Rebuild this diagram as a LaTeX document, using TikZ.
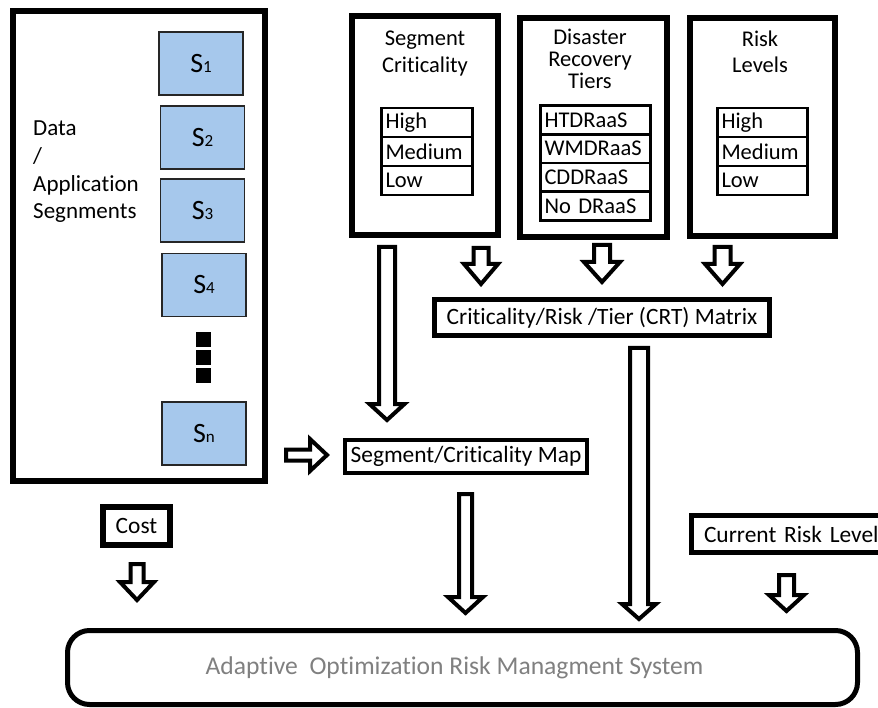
\documentclass[tikz,border=0pt]{standalone}
\usepackage{fontspec}
\setmainfont{Carlito}[Ligatures={NoCommon,NoRequired,NoContextual}]
\usetikzlibrary{calc}

\definecolor{segfill}{RGB}{166,200,236}
\definecolor{labelgray}{RGB}{128,128,128}

% hollow block arrow pointing down: start (top of shaft) -> tip
% #3 shaft half width, #4 head half width, #5 head length (pt)
\newcommand\blockdown[5]{%
  \draw[blockarrow] let \p1=(#1), \p2=(#2) in
    (\x1-#3pt,\y1) -- (\x1+#3pt,\y1) -- (\x1+#3pt,\y2+#5pt) -- (\x1+#4pt,\y2+#5pt)
    -- (\x1,\y2) -- (\x1-#4pt,\y2+#5pt) -- (\x1-#3pt,\y2+#5pt) -- cycle;}
% hollow block arrow pointing right
\newcommand\blockright[5]{%
  \draw[blockarrow] let \p1=(#1), \p2=(#2) in
    (\x1,\y1+#3pt) -- (\x2-#5pt,\y1+#3pt) -- (\x2-#5pt,\y1+#4pt) -- (\x2,\y1)
    -- (\x2-#5pt,\y1-#4pt) -- (\x2-#5pt,\y1-#3pt) -- (\x1,\y1-#3pt) -- cycle;}
\newcommand\segidx[1]{{\fontsize{17}{17}\selectfont #1}}

\tikzset{
  blockarrow/.style={draw=black, fill=white, line width=4pt, line join=miter},
  panel/.style={draw=black, line width=5.5pt, inner sep=0pt},
  segbox/.style={draw=black!85, fill=segfill, line width=1.2pt, minimum width=84pt,
    minimum height=63pt, inner sep=0pt, font=\fontsize{28}{30}\selectfont},
  cell/.style={draw=black, line width=2.5pt, text width=#1, align=left, inner xsep=4pt,
    inner ysep=0pt, minimum height=29pt, font=\fontsize{22.5}{26}\selectfont},
  heading/.style={align=center, inner sep=0pt},
  label/.style={draw=black, line width=5pt, inner sep=0pt, font=\fontsize{23.4}{28}\selectfont},
  dotsq/.style={fill=black, minimum size=15pt, inner sep=0pt},
}

\begin{document}
\begin{tikzpicture}[x=1pt, y=-1pt]
\fill[white] (0,0) rectangle (878,708);
\useasboundingbox (0,0) rectangle (878,708);

% data / application segments
\node[panel, line width=6pt, minimum width=252.5pt, minimum height=469.5pt] (segs) at (138.75,246.25) {};
\node[anchor=west, align=left, inner sep=0pt, font=\fontsize{23}{27.7}\selectfont] (segtxt) at (33,172)
  {Data\\/\\Application\\Segnments};
\node[segbox] (s1) at (201,63.5) {S\segidx{1}};
\node[segbox] (s2) at (202.5,137.5) {S\segidx{2}};
\node[segbox] (s3) at (202.5,210.5) {S\segidx{3}};
\node[segbox] (s4) at (204,285) {S\segidx{4}};
\node[dotsq] (d1) at (203.5,339.5) {};
\node[dotsq] (d2) at (203.5,357.5) {};
\node[dotsq] (d3) at (203.5,375.5) {};
\node[segbox] (sn) at (204,433.5) {S\segidx{n}};

% segment criticality
\node[panel, minimum width=146pt, minimum height=219pt] (crit) at (425,125.5) {};
\node[heading, font=\fontsize{22.5}{27}\selectfont] (critt) at (425,53.5) {Segment\\Criticality};
\node[cell=83pt] (c1) at (427,122.5) {High};
\node[cell=83pt] (c2) at (427,151.5) {Medium};
\node[cell=83pt] (c3) at (427,180.5) {Low};

% disaster recovery tiers
\node[panel, minimum width=147pt, minimum height=219pt] (tiers) at (593.5,127.5) {};
\node[heading, font=\fontsize{22.5}{22}\selectfont] (tierst) at (590,59) {Disaster\\Recovery\\Tiers};
\node[cell=102pt, minimum height=28.75pt] (r1) at (595.5,119.9) {HTDRaaS};
\node[cell=102pt, minimum height=28.75pt] (r2) at (595.5,148.6) {WMDRaaS};
\node[cell=102pt, minimum height=28.75pt] (r3) at (595.5,177.4) {CDDRaaS};
\node[cell=102pt, minimum height=28.75pt] (r4) at (595.5,206.1) {No DRaaS};

% risk levels
\node[panel, minimum width=145pt, minimum height=218pt] (risk) at (762.5,127) {};
\node[heading, font=\fontsize{22.5}{26}\selectfont] (riskt) at (760,52) {Risk\\Levels};
\node[cell=82pt] (l1) at (762.5,122.5) {High};
\node[cell=82pt] (l2) at (762.5,151.5) {Medium};
\node[cell=82pt] (l3) at (762.5,180.5) {Low};

% derived artefacts and inputs
\node[label, minimum width=335pt, minimum height=36pt] (crt) at (602,317.5) {Criticality/Risk /Tier (CRT) Matrix};
\node[label, line width=4pt, minimum width=242pt, minimum height=33pt] (map) at (466,456.5) {Segment/Criticality Map};
\node[label, line width=5.5pt, minimum width=67pt, minimum height=38pt] (cost) at (136.5,526) {Cost};
\node[label, anchor=west, text width=176pt, align=left, inner xsep=13pt, minimum height=37pt] (crl) at (688.5,534) {Current Risk Level};

% target system
\node[draw=black, line width=5pt, rounded corners=22pt, minimum width=790pt, minimum height=74pt,
  text=labelgray, font=\fontsize{25.6}{30}\selectfont] (aorms) at (462.5,667.5)
  {Adaptive\ \ Optimization Risk Managment System\hspace*{16pt}};

% arrow end points
\coordinate (critA) at (387,247);   \coordinate (mapN) at (387,420);
\coordinate (critB) at (481,248);   \coordinate (crtA) at (481,284);
\coordinate (tiersB) at (602,245);  \coordinate (crtB) at (602,282);
\coordinate (riskB) at (722.5,247); \coordinate (crtC) at (722.5,284);
\coordinate (crtS) at (639,348);    \coordinate (sysA) at (639,619);
\coordinate (mapS) at (465.5,494);  \coordinate (sysB) at (465.5,613);
\coordinate (costS) at (137,564);   \coordinate (sysC) at (137,600);
\coordinate (crlS) at (786.5,575);  \coordinate (sysD) at (786.5,611);
\coordinate (segsE) at (286,455);   \coordinate (mapW) at (327,455);

\blockdown{critA}{mapN}{8}{17.5}{16}
\blockdown{critB}{crtA}{7.5}{17}{20}
\blockdown{tiersB}{crtB}{8}{18}{20}
\blockdown{riskB}{crtC}{8}{17.5}{20}
\blockdown{crtS}{sysA}{9}{17}{15}
\blockdown{mapS}{sysB}{6.5}{17.5}{16}
\blockdown{costS}{sysC}{6.5}{17}{18}
\blockdown{crlS}{sysD}{7.5}{17.5}{16}
\blockright{segsE}{mapW}{5.5}{16}{17}
\end{tikzpicture}
\end{document}
